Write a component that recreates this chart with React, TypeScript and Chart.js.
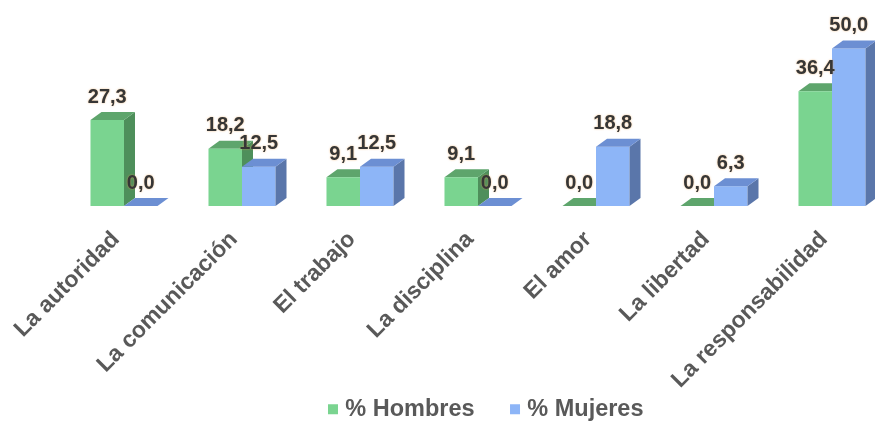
import React, { useEffect, useRef } from 'react';
import { Chart, registerables } from 'chart.js';

Chart.register(...registerables);

const categories = [
  'La autoridad',
  'La comunicación',
  'El trabajo',
  'La disciplina',
  'El amor',
  'La libertad',
  'La responsabilidad',
];
const hombres = [27.3, 18.2, 9.1, 9.1, 0.0, 0.0, 36.4];
const mujeres = [0.0, 12.5, 12.5, 0.0, 18.8, 6.3, 50.0];
const seriesNames = ['% Hombres', '% Mujeres'];

const FONT = "'Liberation Sans', Arial, sans-serif";
const DX = 11;
const DY = 8;
const faces = [
  { front: '#7ad490', side: '#4e8f5b', top: '#5ea56c' },
  { front: '#8db5f7', side: '#5a76aa', top: '#6c8fd3' },
];

function draw3D(chart: any, dsIndex: number) {
  const meta = chart.getDatasetMeta(dsIndex);
  if (!meta || meta.hidden) return;
  const ctx = chart.ctx;
  const c = faces[dsIndex];
  meta.data.forEach((bar: any) => {
    const { x, y, base, width } = bar.getProps(['x', 'y', 'base', 'width'], true);
    const x0 = x - width / 2;
    const x1 = x + width / 2;
    ctx.save();
    ctx.fillStyle = c.side;
    ctx.beginPath();
    ctx.moveTo(x1, y);
    ctx.lineTo(x1 + DX, y - DY);
    ctx.lineTo(x1 + DX, base - DY);
    ctx.lineTo(x1, base);
    ctx.closePath();
    ctx.fill();
    ctx.fillStyle = c.top;
    ctx.beginPath();
    ctx.moveTo(x0, y);
    ctx.lineTo(x1, y);
    ctx.lineTo(x1 + DX, y - DY);
    ctx.lineTo(x0 + DX, y - DY);
    ctx.closePath();
    ctx.fill();
    ctx.restore();
  });
}

function drawLabels(chart: any) {
  const ctx = chart.ctx;
  ctx.save();
  ctx.font = `bold 20px ${FONT}`;
  ctx.textAlign = 'center';
  ctx.textBaseline = 'middle';
  ctx.fillStyle = '#363636';
  ctx.shadowColor = 'rgba(235,165,90,0.75)';
  ctx.shadowBlur = 2;
  chart.data.datasets.forEach((ds: any, i: number) => {
    const meta = chart.getDatasetMeta(i);
    meta.data.forEach((bar: any, j: number) => {
      const v = ds.data[j] as number;
      ctx.fillText(v.toFixed(1).replace('.', ','), bar.x, bar.y - 23);
    });
  });
  ctx.restore();
}

const bars3d = {
  id: 'bars3d',
  afterLayout(chart: any) {
    if (chart.legend) chart.legend.left += 20;
  },
  beforeDatasetsDraw(chart: any) {
    draw3D(chart, 0);
  },
  afterDatasetsDraw(chart: any) {
    draw3D(chart, 1);
    drawLabels(chart);
  },
};

export default function App() {
  const ref = useRef<HTMLCanvasElement>(null);
  useEffect(() => {
    if (!ref.current) return;
    const chart = new Chart(ref.current, {
      type: 'bar',
      data: {
        labels: categories,
        datasets: [
          { label: seriesNames[0], data: hombres, backgroundColor: faces[0].front, borderWidth: 0, clip: false as any },
          { label: seriesNames[1], data: mujeres, backgroundColor: faces[1].front, borderWidth: 0, clip: false as any },
        ],
      },
      options: {
        responsive: false,
        animation: false,
        events: [],
        layout: { padding: { left: 124, right: 43, top: 17, bottom: -6 } },
        datasets: { bar: { categoryPercentage: 0.568, barPercentage: 1 } } as any,
        scales: {
          x: {
            offset: false,
            grid: { display: false, drawTicks: false },
            border: { display: false },
            ticks: {
              autoSkip: false,
              maxRotation: 45,
              minRotation: 45,
              padding: 20,
              labelOffset: -8,
              color: '#595959',
              font: { family: FONT, size: 23, weight: 'bold' },
            },
            afterFit(scale: any) {
              scale.height = 151.5;
            },
            afterUpdate(scale: any) {
              scale._computeLabelArea = () => undefined;
            },
          },
          y: { display: false, min: 0, max: 60 },
        },
        plugins: {
          legend: {
            position: 'bottom',
            labels: {
              usePointStyle: true,
              pointStyle: 'rect',
              boxWidth: 1,
              boxHeight: 10,
              padding: 40,
              color: '#595959',
              font: { family: FONT, size: 23.5, weight: 'bold' },
            },
          },
          tooltip: { enabled: false },
        },
      },
      plugins: [bars3d],
    });
    return () => chart.destroy();
  }, []);
  return (
    <div style={{ position: 'absolute', left: 0, top: 0, width: 875, height: 425 }}>
      <canvas ref={ref} width={875} height={425} style={{ display: 'block' }} />
    </div>
  );
}
